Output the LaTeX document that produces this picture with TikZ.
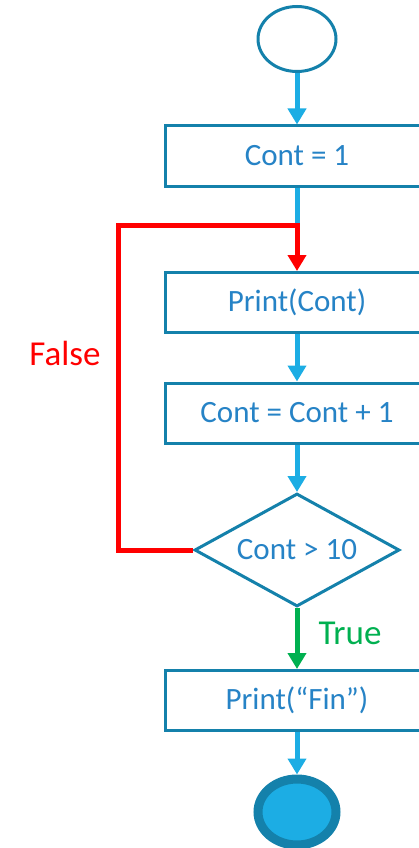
\documentclass[tikz,border=0pt]{standalone}
\usepackage{fontspec}
\setmainfont{Carlito}
\usetikzlibrary{shapes.geometric,arrows.meta}
\definecolor{edgeblue}{HTML}{1481AB}
\definecolor{flowblue}{HTML}{1CADE4}
\definecolor{textblue}{HTML}{2683C6}
\definecolor{falsered}{HTML}{FF0000}
\definecolor{truegreen}{HTML}{00B050}
\begin{document}
\begin{tikzpicture}[x=1pt,y=-1pt,
  boxfont/.style={font=\fontsize{31}{37}\selectfont},
  labelfont/.style={font=\fontsize{35}{42}\selectfont},
  stepbox/.style={rectangle, draw=edgeblue, line width=3pt, fill=white,
    minimum width=264pt, minimum height=60pt, inner sep=0pt,
    text=textblue, boxfont},
  testbox/.style={diamond, aspect=1.8, draw=edgeblue, line width=3pt, fill=white,
    minimum width=205pt, minimum height=113pt, inner sep=0pt,
    text=textblue, boxfont},
  startnode/.style={ellipse, draw=edgeblue, line width=3pt, fill=white,
    minimum width=78pt, minimum height=65pt, inner sep=0pt},
  endnode/.style={ellipse, draw=edgeblue, line width=9pt, fill=flowblue,
    minimum width=78pt, minimum height=66pt, inner sep=0pt},
  tip/.style={-{Triangle[width=18pt,length=16pt]}},
  flow/.style={draw=flowblue, line width=5pt},
  flowarrow/.style={flow, tip},
  loopback/.style={draw=falsered, line width=5pt, tip},
  exitarrow/.style={draw=truegreen, line width=5pt, tip}
]
\useasboundingbox (0,0) rectangle (418,848);

% flowchart blocks
\node[startnode] (start) at (297,39) {};
\node[stepbox] (init) at (297,156) {Cont = 1};
\node[stepbox] (show) at (297,302.5) {Print(Cont)};
\node[stepbox] (incr) at (297,413) {Cont = Cont + 1};
\node[testbox] (check) at (297,550) {Cont > 10};
\node[stepbox] (fin) at (297,700.5) {Print(“Fin”)};
\node[endnode] (end) at (297,812) {};

% junction where the loop re-enters
\coordinate (join) at (297,225);
\coordinate (corner) at (118,550);

% connectors
\draw[flowarrow] (start) -- (init);
\draw[flow] (init.south) -- (join);
\draw[loopback] (check.west) -- (corner) |- (join) -- (show.north);
\draw[flowarrow] (show) -- (incr);
\draw[flowarrow] (incr) -- (check);
\draw[exitarrow] (check.south) -- (fin.north);
\draw[flowarrow] (fin) -- (end);

% branch labels
\node[labelfont, text=falsered] (falselbl) at (65,353) {False};
\node[labelfont, text=truegreen] (truelbl) at (350,633) {True};
\end{tikzpicture}
\end{document}
